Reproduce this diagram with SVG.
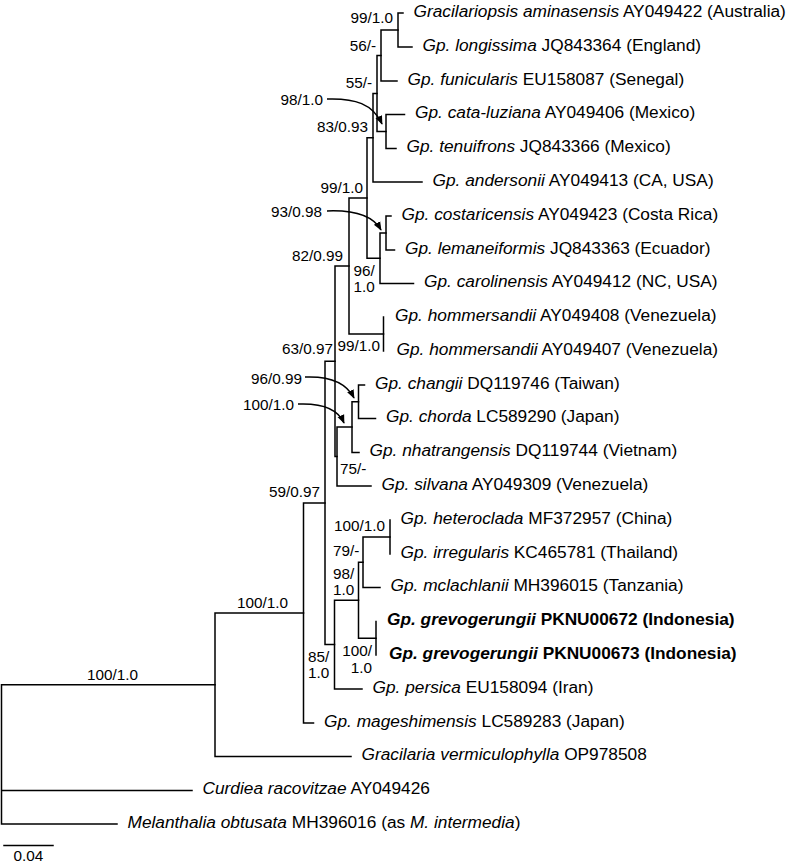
<svg xmlns="http://www.w3.org/2000/svg" width="790" height="863" viewBox="0 0 790 863">
<style>
  .bg { fill: #ffffff; }
  .leaf { font-family: "Liberation Sans", Arial, sans-serif; font-size: 17.3px; fill: #000; }
  .i { font-style: italic; }
  .b { font-weight: bold; }
  .sup { font-family: "Liberation Sans", Arial, sans-serif; font-size: 15.3px; fill: #000; }
  .br { fill: none; stroke: #000; stroke-width: 1.5; stroke-linecap: square; }
  .arr { fill: none; stroke: #000; stroke-width: 1.5; }
</style>
<defs>
  <marker id="ah" viewBox="0 0 10 10" refX="9" refY="5" markerWidth="9" markerHeight="9" markerUnits="userSpaceOnUse" orient="auto">
    <path d="M0,1 L10,5 L0,9 z" fill="#000"/>
  </marker>
</defs>
<rect class="bg" x="0" y="0" width="790" height="863"/>

<g id="connectors">
  <path class="br" d="M1.5,684.75 V824 M1.5,684.75 H215 M1.5,790.5 H192 M1.5,824 H117"/>
  <path class="br" d="M215,613 V756.5 M215,613 H303.5 M215,756.5 H351"/>
  <path class="br" d="M303.5,503 V723 M303.5,503 H325 M303.5,723 H313.5"/>
  <path class="br" d="M325,361.25 V644.6 M325,361.25 H335 M325,644.6 H334.5"/>
  <path class="br" d="M334.5,600.25 V689 M334.5,600.25 H358.5 M334.5,689 H362"/>
  <path class="br" d="M358.5,562.25 V638.25 M358.5,562.25 H363 M358.5,638.25 H376"/>
  <path class="br" d="M376,621.5 V655"/>
  <path class="br" d="M363,537 V587.5 M363,537 H390 M363,587.5 H380"/>
  <path class="br" d="M390,520 V554"/>
  <path class="br" d="M335,266 V456.5 M335,266 H349 M335,456.5 H337"/>
  <path class="br" d="M337,427 V486 M337,427 H352 M337,486 H371"/>
  <path class="br" d="M352,401.75 V452.5 M352,401.75 H358.5 M352,452.5 H359"/>
  <path class="br" d="M358.5,385 V418.5 M358.5,385 H364.5 M358.5,418.5 H375.5"/>
  <path class="br" d="M349,198 V334 M349,198 H367 M349,334 H383.5"/>
  <path class="br" d="M383.5,317 V351"/>
  <path class="br" d="M367,137.75 V258.25 M367,137.75 H373 M367,258.25 H380"/>
  <path class="br" d="M380,233 V283.5 M380,233 H386 M380,283.5 H413.5"/>
  <path class="br" d="M386,216 V250 M386,216 H391 M386,250 H394.5"/>
  <path class="br" d="M373,93.5 V182 M373,93.5 H377 M373,182 H422"/>
  <path class="br" d="M377,55.5 V131.5 M377,55.5 H381 M377,131.5 H386"/>
  <path class="br" d="M386,114.5 V148.5 M386,114.5 H404.5 M386,148.5 H396"/>
  <path class="br" d="M381,30 V81 M381,30 H398 M381,81 H397"/>
  <path class="br" d="M398,13 V47 M398,13 H403 M398,47 H412"/>
  <path class="arr" d="M327,99 C355,98 373,104 382,124" marker-end="url(#ah)"/>
  <path class="arr" d="M327,211 C352,210 372,214 381,230" marker-end="url(#ah)"/>
  <path class="arr" d="M305,377 C328,376 346,382 354,398" marker-end="url(#ah)"/>
  <path class="arr" d="M298,404 C322,403 338,409 344,423" marker-end="url(#ah)"/>
  <path class="br" d="M4,845.5 H53"/>
</g>

<g id="scale-bar"><text class="sup" x="28.5" y="861" text-anchor="middle">0.04</text></g>

<g id="node-n1"><text class="sup" x="393" y="23" text-anchor="end">99/1.0</text></g>
<g id="node-n2"><text class="sup" x="376" y="50.5" text-anchor="end">56/-</text></g>
<g id="node-n3"><text class="sup" x="323" y="104.5" text-anchor="end">98/1.0</text></g>
<g id="node-n4"><text class="sup" x="372" y="87.5" text-anchor="end">55/-</text></g>
<g id="node-n5"><text class="sup" x="368" y="132" text-anchor="end">83/0.93</text></g>
<g id="node-n6"><text class="sup" x="363" y="193" text-anchor="end">99/1.0</text></g>
<g id="node-n7"><text class="sup" x="353.5" y="275.5"><tspan x="353.5">96/</tspan><tspan x="353.5" dy="16">1.0</tspan></text></g>
<g id="node-n8"><text class="sup" x="322" y="217" text-anchor="end">93/0.98</text></g>
<g id="node-n9"><text class="sup" x="343" y="260.5" text-anchor="end">82/0.99</text></g>
<g id="node-hom"><text class="sup" x="380" y="350.5" text-anchor="end">99/1.0</text></g>
<g id="node-n10"><text class="sup" x="333" y="354" text-anchor="end">63/0.97</text></g>
<g id="node-n12"><text class="sup" x="302" y="383.5" text-anchor="end">96/0.99</text></g>
<g id="node-n13"><text class="sup" x="294" y="410" text-anchor="end">100/1.0</text></g>
<g id="node-n14"><text class="sup" x="340" y="473.5">75/-</text></g>
<g id="node-c"><text class="sup" x="320" y="497" text-anchor="end">59/0.97</text></g>
<g id="node-i"><text class="sup" x="385" y="531" text-anchor="end">100/1.0</text></g>
<g id="node-g"><text class="sup" x="333" y="556">79/-</text></g>
<g id="node-f"><text class="sup" x="333" y="578.5"><tspan x="333">98/</tspan><tspan x="333" dy="16.5">1.0</tspan></text></g>
<g id="node-b"><text class="sup" x="288" y="607.5" text-anchor="end">100/1.0</text></g>
<g id="node-h"><text class="sup" x="372" y="655.5" text-anchor="end"><tspan x="372">100/</tspan><tspan x="372" dy="17">1.0</tspan></text></g>
<g id="node-e"><text class="sup" x="308" y="661.5"><tspan x="308">85/</tspan><tspan x="308" dy="16">1.0</tspan></text></g>
<g id="node-a"><text class="sup" x="138" y="679.5" text-anchor="end">100/1.0</text></g>

<g id="leaf-aminasensis"><text class="leaf" x="413.5" y="16.5"><tspan class="i">Gracilariopsis aminasensis</tspan> AY049422 (Australia)</text></g>
<g id="leaf-longissima"><text class="leaf" x="422.5" y="50.5"><tspan class="i">Gp. longissima</tspan> JQ843364 (England)</text></g>
<g id="leaf-funicularis"><text class="leaf" x="407.5" y="84.5"><tspan class="i">Gp. funicularis</tspan> EU158087 (Senegal)</text></g>
<g id="leaf-cata-luziana"><text class="leaf" x="415" y="118"><tspan class="i">Gp. cata-luziana</tspan> AY049406 (Mexico)</text></g>
<g id="leaf-tenuifrons"><text class="leaf" x="406.5" y="152"><tspan class="i">Gp. tenuifrons</tspan> JQ843366 (Mexico)</text></g>
<g id="leaf-andersonii"><text class="leaf" x="432.5" y="185.5"><tspan class="i">Gp. andersonii</tspan> AY049413 (CA, USA)</text></g>
<g id="leaf-costaricensis"><text class="leaf" x="401.5" y="219.5"><tspan class="i">Gp. costaricensis</tspan> AY049423 (Costa Rica)</text></g>
<g id="leaf-lemaneiformis"><text class="leaf" x="405" y="253.5"><tspan class="i">Gp. lemaneiformis</tspan> JQ843363 (Ecuador)</text></g>
<g id="leaf-carolinensis"><text class="leaf" x="424" y="287"><tspan class="i">Gp. carolinensis</tspan> AY049412 (NC, USA)</text></g>
<g id="leaf-hommersandii-408"><text class="leaf" x="395" y="320.5"><tspan class="i">Gp. hommersandii</tspan> AY049408 (Venezuela)</text></g>
<g id="leaf-hommersandii-407"><text class="leaf" x="396.5" y="354.5"><tspan class="i">Gp. hommersandii</tspan> AY049407 (Venezuela)</text></g>
<g id="leaf-changii"><text class="leaf" x="375" y="388.5"><tspan class="i">Gp. changii</tspan> DQ119746 (Taiwan)</text></g>
<g id="leaf-chorda"><text class="leaf" x="386" y="422"><tspan class="i">Gp. chorda</tspan> LC589290 (Japan)</text></g>
<g id="leaf-nhatrangensis"><text class="leaf" x="369.5" y="456"><tspan class="i">Gp. nhatrangensis</tspan> DQ119744 (Vietnam)</text></g>
<g id="leaf-silvana"><text class="leaf" x="381.5" y="489.5"><tspan class="i">Gp. silvana</tspan> AY049309 (Venezuela)</text></g>
<g id="leaf-heteroclada"><text class="leaf" x="400.5" y="523.5"><tspan class="i">Gp. heteroclada</tspan> MF372957 (China)</text></g>
<g id="leaf-irregularis"><text class="leaf" x="400.5" y="557.5"><tspan class="i">Gp. irregularis</tspan> KC465781 (Thailand)</text></g>
<g id="leaf-mclachlanii"><text class="leaf" x="390.5" y="591"><tspan class="i">Gp. mclachlanii</tspan> MH396015 (Tanzania)</text></g>
<g id="leaf-grevogerungii-672"><text class="leaf b" x="387" y="625"><tspan class="i">Gp. grevogerungii</tspan> PKNU00672 (Indonesia)</text></g>
<g id="leaf-grevogerungii-673"><text class="leaf b" x="389" y="658.5"><tspan class="i">Gp. grevogerungii</tspan> PKNU00673 (Indonesia)</text></g>
<g id="leaf-persica"><text class="leaf" x="372.5" y="692.5"><tspan class="i">Gp. persica</tspan> EU158094 (Iran)</text></g>
<g id="leaf-mageshimensis"><text class="leaf" x="324" y="726.5"><tspan class="i">Gp. mageshimensis</tspan> LC589283 (Japan)</text></g>
<g id="leaf-vermiculophylla"><text class="leaf" x="361.5" y="760"><tspan class="i">Gracilaria vermiculophylla</tspan> OP978508</text></g>
<g id="leaf-curdiea"><text class="leaf" x="202.5" y="794"><tspan class="i">Curdiea racovitzae</tspan> AY049426</text></g>
<g id="leaf-melanthalia"><text class="leaf" x="127.5" y="827.5"><tspan class="i">Melanthalia obtusata</tspan> MH396016 (as <tspan class="i">M. intermedia</tspan>)</text></g>
</svg>
